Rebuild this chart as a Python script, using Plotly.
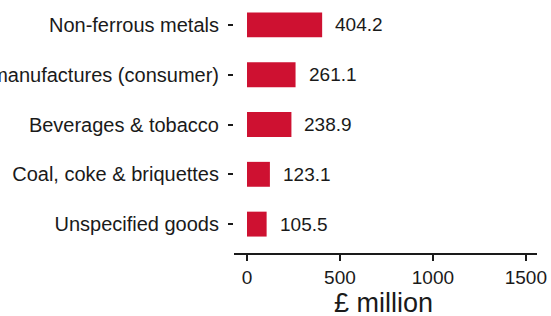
import plotly.graph_objects as go

categories = ["Unspecified goods", "Coal, coke & briquettes", "Beverages & tobacco",
              "Miscellaneous manufactures (consumer)", "Non-ferrous metals"]
values = [105.5, 123.1, 238.9, 261.1, 404.2]
x_ticks = [0, 500, 1000, 1500]
x_title = "£ million"

FONT = "Liberation Sans, Arial, sans-serif"
INK = "#1a1a1a"
BAR = "#CE1131"

fig = go.Figure()
fig.add_trace(go.Bar(
    x=values, y=categories, orientation="h", width=0.5,
    marker=dict(color=BAR, line=dict(width=0)),
    hoverinfo="x+y",
))

for c, v in zip(categories, values):
    fig.add_annotation(x=v, y=c, xref="x", yref="y", text=f"{v:.1f}",
                       showarrow=False, xanchor="left", yanchor="middle",
                       xshift=11, font=dict(family=FONT, size=19, color=INK))

fig.add_annotation(x=0.495, y=-0.198, xref="paper", yref="paper", text=x_title,
                   showarrow=False, xanchor="center", yanchor="middle",
                   font=dict(family=FONT, size=27, color=INK))

fig.update_layout(
    width=551, height=316,
    margin=dict(l=234, r=14, t=0, b=63, autoexpand=False),
    paper_bgcolor="white", plot_bgcolor="white",
    showlegend=False,
    font=dict(family=FONT, color=INK),
    xaxis=dict(range=[-70, 1560], tickvals=x_ticks, ticktext=[str(t) for t in x_ticks],
               showgrid=False, zeroline=False, showline=True, linewidth=2, linecolor=INK,
               ticks="outside", ticklen=6, tickwidth=2, tickcolor=INK,
               tickfont=dict(family=FONT, size=19, color=INK), automargin=False),
    yaxis=dict(categoryorder="array", categoryarray=categories, range=[-0.58, 4.5],
               showgrid=False, zeroline=False, showline=False,
               ticks="outside", ticklen=5, tickwidth=2, tickcolor=INK,
               ticklabelstandoff=5,
               tickfont=dict(family=FONT, size=20, color=INK), automargin=False),
)

fig.write_html("out.html", config={"displayModeBar": False},
               post_script="document.body.style.margin='0';document.body.style.overflow='hidden';")
